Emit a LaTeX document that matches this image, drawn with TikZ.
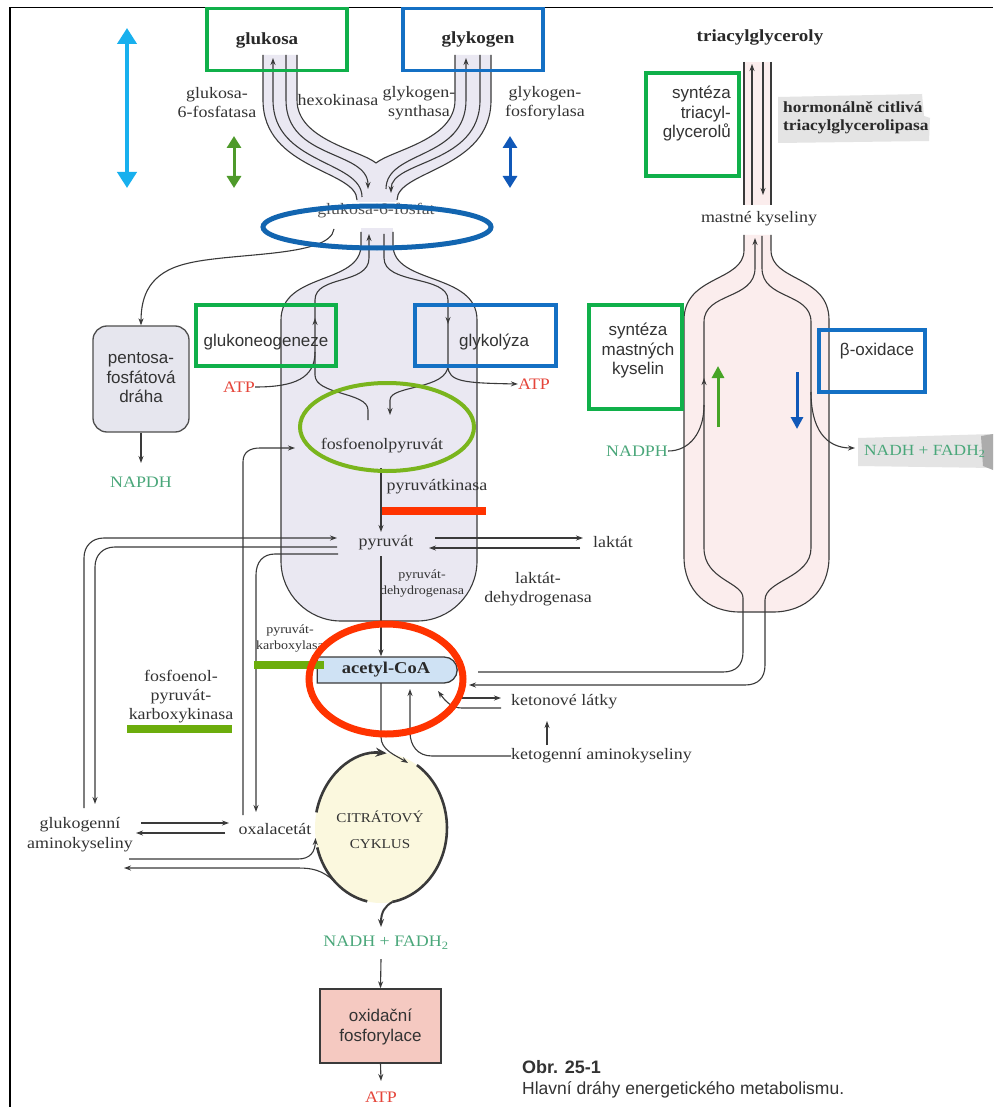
\documentclass[tikz,border=0pt]{standalone}
\usepackage{fontspec}
\setmainfont{Liberation Serif}[FakeStretch=1.12]
\setsansfont{Liberation Sans}
\usetikzlibrary{arrows.meta,shapes.geometric,shapes.misc}
\definecolor{lc}{HTML}{3A3A3A}
\definecolor{txt}{HTML}{333333}
\definecolor{gbx}{HTML}{10B04A}
\definecolor{bbx}{HTML}{1470C4}
\definecolor{cyanar}{HTML}{18B0EE}
\definecolor{olv}{HTML}{4E9A2A}
\definecolor{dblue}{HTML}{1058B8}
\definecolor{redc}{HTML}{FF3300}
\definecolor{lime}{HTML}{6CAD0C}
\definecolor{pepg}{HTML}{7AB51D}
\definecolor{lav}{HTML}{EAE8F2}
\definecolor{pinkf}{HTML}{FBEDED}
\definecolor{acf}{HTML}{CFE2F4}
\definecolor{cream}{HTML}{FBF8DE}
\definecolor{pppf}{HTML}{E6E6EE}
\definecolor{oxff}{HTML}{F5C9C1}
\definecolor{atpred}{HTML}{E5453A}
\definecolor{nadg}{HTML}{4AA77A}
\definecolor{smudge}{HTML}{E4E4E4}
\begin{document}
\begin{tikzpicture}[x=1pt,y=-1pt,
 ln/.style={draw=lc, line width=1.1pt},
 ar/.style={ln, -{Stealth[length=7pt,width=5pt]}},
 cyc/.style={draw=lc, line width=2.6pt},
 cyca/.style={cyc, -{Stealth[length=11pt,width=9pt]}},
 gbox/.style={draw=gbx, line width=3.5pt, inner sep=0},
 bbox/.style={draw=bbx, line width=3.5pt, inner sep=0},
 lab/.style={font=\fontsize{16}{19}\selectfont, text=txt, align=center, inner sep=0},
 blab/.style={font=\fontsize{17}{19}\selectfont\bfseries, text=txt!80!black, align=center, inner sep=0},
 small/.style={font=\fontsize{12.5}{16}\selectfont, text=txt, align=center, inner sep=0},
 sl/.style={font=\sffamily\fontsize{17}{19.5}\selectfont, text=txt, align=center, inner sep=0},
 grn/.style={lab, text=nadg},
 red/.style={lab, text=atpred},
]
\useasboundingbox (0,0) rectangle (993,1107);
\fill[white] (0,0) rectangle (993,1107);
% frame
\draw[line width=1.6pt, black] (10,1107) -- (10,7.5) -- (993,7.5);

% smudges
\fill[smudge] (778,97) -- (922,94) -- (924,116) -- (930,118) -- (929,141) -- (778,143) -- cycle;
\fill[smudge] (858,438) -- (993,434) -- (993,468) -- (858,466) -- cycle;
\fill[gray!65] (981,436) -- (993,434) -- (993,470) -- (983,466) -- cycle;

% ---------- glucose funnel ----------
\fill[lav] (263,55) -- (263,100) .. controls (263,170) and (357,170) .. (357,202) -- (397,202)
  .. controls (397,170) and (491,170) .. (491,100) -- (491,55) -- (455,55) -- (455,100)
  .. controls (455,140) and (392,150) .. (376,163) .. controls (360,150) and (297,140) .. (297,100) -- (297,55) -- cycle;
\fill[lav] (361,228) rectangle (393,236);
\draw[ln] (263,55) -- (263,100) .. controls (263,170) and (357,170) .. (357,200);
\draw[ln, {Stealth[length=7pt,width=5pt]}-] (273,58) -- (273,100) .. controls (273,165) and (362,160) .. (362,197);
\draw[ar] (286,55) -- (286,100) .. controls (286,160) and (368,150) .. (368,189);
\draw[ln] (297,55) -- (297,100) .. controls (297,140) and (360,150) .. (376,163) .. controls (392,150) and (455,140) .. (455,100) -- (455,55);
\draw[ln, {Stealth[length=7pt,width=5pt]}-] (466,58) -- (466,100) .. controls (466,160) and (386,150) .. (386,189);
\draw[ar] (480,55) -- (480,100) .. controls (480,165) and (391,160) .. (391,193);
\draw[ln] (491,55) -- (491,100) .. controls (491,170) and (397,170) .. (397,200);

% ---------- glucose bottle ----------
\path[fill=lav] (361,232) -- (361,245) .. controls (361,285) and (281,272) .. (281,320) -- (281,561)
  .. controls (281,594) and (308,621) .. (341,621) -- (417,621) .. controls (450,621) and (477,594) .. (477,561)
  -- (477,320) .. controls (477,272) and (393,285) .. (393,245) -- (393,232) -- cycle;
\draw[ln] (361,232) -- (361,245) .. controls (361,285) and (281,272) .. (281,320) -- (281,561)
  .. controls (281,594) and (308,621) .. (341,621) -- (417,621) .. controls (450,621) and (477,594) .. (477,561)
  -- (477,320) .. controls (477,272) and (393,285) .. (393,245) -- (393,232);
\draw[ar] (368,420) -- (368,410) .. controls (368,392) and (315,395) .. (315,375) -- (315,318);
\draw[ar] (315,320) -- (315,300) .. controls (315,275) and (369,285) .. (369,258) -- (369,234);
\draw[ar] (384,234) -- (384,258) .. controls (384,285) and (448,275) .. (448,300) -- (448,324);
\draw[ar] (448,322) -- (448,365) .. controls (448,390) and (390,385) .. (390,400) -- (390,415);

% ---------- fat bottle ----------
\fill[pinkf] (744,62) rectangle (771,205);
\path[fill=pinkf] (744,235) -- (744,250) .. controls (744,282) and (684,275) .. (684,320) -- (684,557)
  .. controls (684,590) and (707,612) .. (740,612) -- (773,612) .. controls (806,612) and (829,590) .. (829,557)
  -- (829,320) .. controls (829,275) and (771,282) .. (771,250) -- (771,235) -- cycle;
\draw[ln] (744,62) -- (744,205);
\draw[ar] (752,205) -- (752,64);
\draw[ar] (763,62) -- (763,195);
\draw[ln] (771,62) -- (771,205);
\draw[ln] (744,235) -- (744,250) .. controls (744,282) and (684,275) .. (684,320) -- (684,557)
  .. controls (684,590) and (707,612) .. (740,612) -- (773,612) .. controls (806,612) and (829,590) .. (829,557)
  -- (829,320) .. controls (829,275) and (771,282) .. (771,250) -- (771,235);

% ---------- nodes: texts ----------
\node[blab] (glc) at (267,40) {glukosa};
\node[blab] (glyg) at (478,39) {glykogen};
\node[blab] (tag) at (760,37) {triacylglyceroly};
\node[lab] (g6pase) at (217,103) {glukosa-\\6-fosfatasa};
\node[lab] (hk) at (338,100) {hexokinasa};
\node[lab] (gs) at (419,103) {glykogen-\\synthasa};
\node[lab] (gp) at (545,103) {glykogen-\\fosforylasa};
\node[blab, font=\fontsize{15.5}{18}\selectfont\bfseries, align=left, anchor=west] (hsl) at (783,118) {hormonálně citlivá\\triacylglycerolipasa};
\node[lab] (fa) at (759,219) {mastné kyseliny};
\node[lab, text=txt!85] (g6p) at (376,211) {glukosa-6-fosfat};
\node[red] (atpL) at (239,387) {ATP};
\node[red] (atpR) at (534,384) {ATP};
\node[lab] (pep) at (382,446) {fosfoenolpyruvát};
\node[lab] (pk) at (437,487) {pyruvátkinasa};
\node[lab] (pyr) at (386,543) {pyruvát};
\node[lab] (lac) at (613,542) {laktát};
\node[small] (pdh) at (422,583) {pyruvát-\\dehydrogenasa};
\node[lab] (ldh) at (538,589) {laktát-\\dehydrogenasa};
\node[small] (pc) at (290,638) {pyruvát-\\karboxylasa};
\node[lab] (pepck) at (181,697) {fosfoenol-\\pyruvát-\\karboxykinasa};
\node[lab, anchor=west] (ket) at (511,702) {ketonové látky};
\node[lab, anchor=west] (ketaa) at (511,756) {ketogenní aminokyseliny};
\node[lab, font=\fontsize{16}{20}\selectfont] (glaa) at (80,835) {glukogenní\\aminokyseliny};
\node[lab] (oaa) at (275,829) {oxalacetát};
\node[grn] (nadpL) at (141,482) {NAPDH};
\node[grn] (nadph) at (637,451) {NADPH};
\node[grn, font=\fontsize{15.5}{19}\selectfont, anchor=west] (nadhR) at (864,451) {NADH + FADH\textsubscript{2}};
\node[grn] (nadhB) at (386,943) {NADH + FADH\textsubscript{2}};
\node[red] (atpB) at (381,1097) {ATP};

% pentose box
\node[draw=lc!90, line width=1.3pt, fill=pppf, rounded corners=14pt, minimum width=96, minimum height=106, inner sep=0] (ppp) at (141,379) {};
\node[sl] (ppptext) at (141,378) {pentosa-\\fosfátová\\dráha};
% acetyl-CoA
\node[rounded rectangle, rounded rectangle west arc=none, draw=lc, line width=1.3pt, fill=acf, minimum width=140, minimum height=26, inner sep=0, font=\fontsize{16.5}{18}\selectfont\bfseries, text=txt!80!black] (acoa) at (386,670) {acetyl-CoA};
% citrate cycle
\node[ellipse, fill=cream, minimum width=132, minimum height=150, inner sep=0] (cac) at (381,828) {};
\node[small, font=\fontsize{13.5}{26}\selectfont] (cactext) at (380,830) {CITRÁTOVÝ\\CYKLUS};
% ox phos
\node[draw=lc, line width=1.5pt, fill=oxff, minimum width=121, minimum height=74, inner sep=0] (oxf) at (380.5,1026) {};
\node[sl] (oxftext) at (380.5,1027) {oxidační\\fosforylace};

% ---------- connectors ----------
\draw[ar] (334,229) .. controls (330,258) and (230,252) .. (185,264) .. controls (150,273) and (141,295) .. (ppp.north);
\draw[ar] (ppp.south) -- (141,463);
\draw[ln] (atpL.east) .. controls (295,387) and (315,378) .. (315,352);
\draw[ar] (448,366) .. controls (448,382) and (465,383) .. (atpR.west);
\draw[ar] (381,468) -- (381,532);
% pyruvate - glukogenni
\draw[ar] (84,808) -- (84,558) .. controls (84,546) and (92,538) .. (104,538) -- (337,538);
\draw[ar] (337,547) -- (115,547) .. controls (103,547) and (95,555) .. (95,567) -- (95,804);
\draw[ar] (338,554) -- (275,554) .. controls (263,554) and (256,562) .. (256,575) -- (256,812);
\draw[ar] (243,815) -- (243,462) .. controls (243,452) and (250,448) .. (260,448) -- (295,448);
% lactate
\draw[ar] (435,538) -- (583,538);
\draw[ar] (580,548) -- (429,548);
% pyruvate to acetyl
\draw[ar] (381,556) -- (acoa.north -| 381,0);
% fatty acid lines
\draw[ar] (478,672) -- (723,672) .. controls (736,672) and (743,665) .. (743,652) -- (743,598) .. controls (743,582) and (704,580) .. (704,548) -- (704,378);
\draw[ar] (704,380) -- (704,322) .. controls (704,292) and (755,300) .. (755,268) -- (755,238);
\draw[ln] (nadph.east) .. controls (690,451) and (704,432) .. (704,405);
\draw[ar] (762,236) -- (762,268) .. controls (762,300) and (811,292) .. (811,322) -- (811,548) .. controls (811,578) and (765,580) .. (765,600) -- (765,665) .. controls (765,678) and (758,685) .. (745,685) -- (469,685);
\draw[ar] (811,392) .. controls (811,428) and (825,448) .. (855,448);
% ketone bodies
\draw[ar] (458,698) -- (501,698);
\draw[ar] (501,708) -- (462,708) .. controls (452,708) and (446,702) .. (438,691);
\draw[ar] (ketaa.west) -- (432,756) .. controls (418,756) and (410,746) .. (410,732) -- (410,689);
\draw[ar] (547,745) -- (547,721);
% acetyl to cycle
\draw[ar] (381,683) -- (381,737) .. controls (381,750) and (395,755) .. (408,763);
% cycle arcs
\draw[cyca] (316.4,812.4) arc[start angle=168, end angle=85, x radius=66pt, y radius=75pt];
\draw[cyc] (317.2,847.4) arc[start angle=195, end angle=258, x radius=66pt, y radius=75pt];
\draw[cyc] (416.9,765.1) arc[start angle=57, end angle=-80, x radius=66pt, y radius=75pt];
\draw[cyc, line width=2pt, -{Stealth[length=8pt,width=6pt]}] (392.5,901.9) .. controls (385,906) and (381,912) .. (381,927);
% glukogenni <-> oxalacetat <-> cycle
\draw[ar] (141,823) -- (229,823);
\draw[ar] (225,833) -- (136,833);
\draw[ar] (129,859) -- (298,859) .. controls (310,859) and (315,852) .. (315.5,838);
\draw[ar] (334,881) .. controls (322,870) and (312,868) .. (298,868) -- (124,868);
% bottom
\draw[ar] (381,959) -- (oxf.north);
\draw[ar] (oxf.south) -- (381,1081);

% caption
\node[font=\sffamily\bfseries\fontsize{18}{20}\selectfont, text=txt, anchor=west, inner sep=0] (cap1) at (522,1067) {Obr. 25-1};
\node[font=\sffamily\fontsize{17.5}{20}\selectfont, text=txt, anchor=west, inner sep=0] (cap2) at (522,1090) {Hlavní dráhy energetického metabolismu.};

% ---------- colored annotations ----------
\draw[cyanar, line width=4.5pt, {Triangle[length=16pt,width=19pt]}-{Triangle[length=16pt,width=19pt]}] (127,28) -- (127,188);
\draw[olv, line width=3pt, {Triangle[length=12pt,width=14pt]}-{Triangle[length=12pt,width=14pt]}] (234,136) -- (234,188);
\draw[dblue, line width=3pt, {Triangle[length=12pt,width=14pt]}-{Triangle[length=12pt,width=14pt]}] (510,136) -- (510,188);
\node[gbox, minimum width=140, minimum height=62] (glcbox) at (277,39.5) {};
\node[bbox, minimum width=140, minimum height=62] (glygbox) at (473,39.5) {};
\node[gbox, minimum width=93, minimum height=103] (tagbox) at (692.5,124.5) {};
\node[sl, align=right, anchor=east] (tagtext) at (731,114) {syntéza\\triacyl-\\glycerolů};
\node[gbox, minimum width=140, minimum height=61] (gngbox) at (266,335.5) {};
\node[sl] (gngtext) at (266,342) {glukoneogeneze};
\node[bbox, minimum width=141, minimum height=61] (glybox) at (485.5,335.5) {};
\node[sl] (glytext) at (494,342) {glykolýza};
\node[gbox, minimum width=93, minimum height=104] (fasbox) at (635.5,357) {};
\node[sl] (fastext) at (638,351) {syntéza\\mastných\\kyselin};
\node[bbox, minimum width=106, minimum height=62] (betabox) at (872,361) {};
\node[sl] (betatext) at (877,351) {β-oxidace};
\draw[olv!90!green, line width=3pt, -{Triangle[length=12pt,width=12pt]}] (718,427) -- (718,366);
\draw[dblue, line width=3pt, -{Triangle[length=12pt,width=12pt]}] (797,372) -- (797,429);
\node[ellipse, draw=bbx!90!black, line width=5pt, minimum width=228, minimum height=42, inner sep=0] (g6pring) at (377,227) {};
\node[ellipse, draw=pepg, line width=4pt, minimum width=174, minimum height=88, inner sep=0] (pepring) at (387,427) {};
\draw[redc, line width=8pt] (382,511) -- (486,511);
\draw[lime, line width=8pt] (254,665) -- (324,665);
\draw[lime, line width=8pt] (127,729) -- (232,729);
\node[ellipse, draw=redc, line width=7pt, minimum width=154, minimum height=110, inner sep=0] (acring) at (386,679) {};
\end{tikzpicture}
\end{document}
